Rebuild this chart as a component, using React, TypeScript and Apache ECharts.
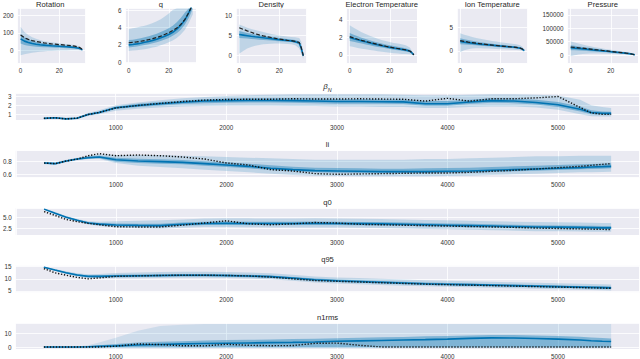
import React, { useEffect, useRef } from "react";
import * as echarts from "echarts";

// ---------- radial profile panels (top row) ----------
const R = [0, 2, 4, 6, 8, 10, 12, 14, 16, 18, 20, 22, 24, 26, 28, 30, 31, 32];

const ROT_TRUTH = [88, 72, 62, 55, 50, 46, 42, 39, 36, 34, 32, 30, 28, 26, 23, 18, 12, 3];
const ROT_MED = [65, 52, 44, 38, 34, 31, 29, 27, 25, 24, 22, 21, 19, 17, 15, 11, 7, 1];
const ROT_OLO = [-30, -25, -20, -15, -12, -10, -8, -6, -5, -4, -3, -2, -2, -1, -1, -1, -2, -5];
const ROT_OHI = [135, 105, 88, 75, 66, 58, 52, 48, 45, 42, 40, 37, 35, 32, 29, 24, 18, 6];
const ROT_ILO = [38, 30, 25, 22, 20, 18, 17, 16, 15, 14, 13, 12, 11, 10, 9, 6, 3, -2];
const ROT_IHI = [95, 75, 63, 54, 48, 43, 40, 37, 34, 32, 30, 28, 26, 24, 21, 16, 11, 3];

const Q_TRUTH = [2.25, 2.3, 2.35, 2.42, 2.5, 2.6, 2.72, 2.85, 3.0, 3.2, 3.4, 3.65, 3.95, 4.35, 4.9, 5.7, 6.2, 6.8];
const Q_MED = [2.0, 2.05, 2.12, 2.2, 2.3, 2.4, 2.52, 2.65, 2.82, 3.0, 3.2, 3.45, 3.8, 4.25, 4.85, 5.7, 6.2, 6.8];
const Q_OLO = [1.3, 1.35, 1.4, 1.45, 1.5, 1.6, 1.7, 1.8, 1.95, 2.1, 2.3, 2.5, 2.8, 3.2, 3.7, 4.5, 5.0, 5.5];
const Q_OHI = [3.8, 3.9, 4.0, 4.1, 4.2, 4.35, 4.5, 4.7, 4.95, 5.25, 5.6, 6.0, 6.5, 7, 7, 7, 7, 7];
const Q_ILO = [1.7, 1.75, 1.82, 1.9, 1.98, 2.07, 2.18, 2.3, 2.45, 2.62, 2.8, 3.05, 3.35, 3.75, 4.3, 5.1, 5.6, 6.2];
const Q_IHI = [2.55, 2.6, 2.68, 2.77, 2.87, 3.0, 3.13, 3.28, 3.47, 3.68, 3.92, 4.2, 4.6, 5.1, 5.7, 6.5, 7, 7.4];

const DEN_TRUTH = [7.0, 6.6, 6.2, 5.85, 5.5, 5.2, 4.95, 4.75, 4.55, 4.35, 4.15, 4.0, 3.85, 3.75, 3.6, 3.3, 2.0, 0];
const DEN_MED = [5.3, 5.15, 5.0, 4.85, 4.72, 4.6, 4.48, 4.36, 4.24, 4.12, 4.0, 3.9, 3.8, 3.7, 3.5, 3.15, 1.8, 0];
const DEN_OLO = [0.5, 1.2, 1.8, 2.2, 2.5, 2.7, 2.85, 2.95, 3.0, 3.05, 3.05, 3.0, 2.95, 2.85, 2.6, 1.8, 0.5, -0.8];
const DEN_OHI = [7.8, 7.4, 7.0, 6.7, 6.45, 6.2, 5.95, 5.7, 5.45, 5.25, 5.05, 4.9, 4.8, 4.7, 4.6, 4.4, 3.5, 0.8];
const DEN_ILO = [4.4, 4.35, 4.3, 4.2, 4.1, 4.0, 3.92, 3.85, 3.78, 3.7, 3.62, 3.55, 3.47, 3.4, 3.2, 2.8, 1.3, -0.2];
const DEN_IHI = [6.2, 5.95, 5.7, 5.5, 5.32, 5.15, 5.0, 4.87, 4.73, 4.6, 4.45, 4.32, 4.2, 4.08, 3.9, 3.6, 2.4, 0.3];

const TE_TRUTH = [2.1, 1.95, 1.8, 1.67, 1.55, 1.43, 1.32, 1.2, 1.1, 1.0, 0.9, 0.82, 0.74, 0.66, 0.58, 0.45, 0.28, 0.02];
const TE_MED = [2.0, 1.86, 1.73, 1.61, 1.5, 1.38, 1.27, 1.16, 1.06, 0.96, 0.87, 0.79, 0.71, 0.64, 0.56, 0.44, 0.26, 0.02];
const TE_OLO = [1.0, 0.9, 0.8, 0.72, 0.65, 0.58, 0.5, 0.43, 0.37, 0.31, 0.25, 0.2, 0.16, 0.12, 0.1, 0.08, 0.03, -0.1];
const TE_OHI = [3.4, 3.1, 2.85, 2.6, 2.4, 2.2, 2.02, 1.86, 1.72, 1.6, 1.48, 1.38, 1.3, 1.22, 1.12, 0.85, 0.5, 0.1];
const TE_ILO = [1.6, 1.5, 1.4, 1.3, 1.2, 1.1, 1.01, 0.92, 0.84, 0.76, 0.68, 0.61, 0.54, 0.48, 0.41, 0.32, 0.18, -0.03];
const TE_IHI = [2.5, 2.3, 2.13, 1.97, 1.83, 1.68, 1.55, 1.43, 1.32, 1.21, 1.11, 1.02, 0.94, 0.86, 0.76, 0.6, 0.36, 0.05];

const TI_TRUTH = [2.2, 2.05, 1.9, 1.78, 1.65, 1.53, 1.43, 1.33, 1.24, 1.15, 1.06, 0.98, 0.9, 0.82, 0.73, 0.58, 0.4, 0.05];
const TI_MED = [2.0, 1.88, 1.77, 1.66, 1.55, 1.45, 1.36, 1.28, 1.2, 1.12, 1.04, 0.96, 0.89, 0.81, 0.72, 0.57, 0.38, 0.05];
const TI_OLO = [-0.3, 0.1, 0.35, 0.5, 0.55, 0.55, 0.52, 0.48, 0.44, 0.4, 0.36, 0.32, 0.28, 0.24, 0.18, 0.1, 0.03, -0.2];
const TI_OHI = [3.8, 3.5, 3.25, 3.0, 2.8, 2.6, 2.43, 2.28, 2.14, 2.0, 1.88, 1.76, 1.65, 1.55, 1.42, 1.2, 0.9, 0.3];
const TI_ILO = [1.4, 1.35, 1.3, 1.24, 1.18, 1.12, 1.05, 0.98, 0.91, 0.85, 0.78, 0.72, 0.66, 0.6, 0.52, 0.38, 0.22, -0.05];
const TI_IHI = [2.7, 2.5, 2.32, 2.16, 2.02, 1.88, 1.76, 1.65, 1.54, 1.44, 1.34, 1.25, 1.16, 1.06, 0.95, 0.78, 0.56, 0.12];

const P_TRUTH = [30000, 28500, 27000, 25500, 24000, 22300, 20500, 18800, 17000, 15300, 13600, 11900, 10200, 8500, 6700, 4500, 3000, 500];
const P_MED = [27000, 25700, 24400, 23000, 21600, 20000, 18500, 17000, 15500, 14000, 12500, 11000, 9500, 8000, 6300, 4300, 2800, 500];
const P_OLO = [-5000, -1000, 2000, 4000, 5000, 5500, 5500, 5500, 5000, 4500, 4000, 3500, 3000, 2500, 2000, 1200, 600, 0];
const P_OHI = [52000, 47000, 43000, 39000, 35500, 32500, 29500, 27000, 24500, 22000, 19800, 17600, 15400, 13000, 10500, 7500, 5000, 1200];
const P_ILO = [18000, 17500, 17000, 16000, 15000, 14000, 13000, 12000, 11000, 10000, 9000, 8000, 7000, 6000, 4700, 3200, 2000, 200];
const P_IHI = [37000, 34500, 32000, 30000, 28000, 26000, 24000, 22000, 20000, 18000, 16000, 14000, 12000, 10000, 8000, 5500, 3700, 800];

// ---------- time traces (bottom rows) ----------
const TIME = [350, 450, 550, 650, 750, 850, 1000, 1200, 1400, 1600, 1800, 2000, 2200, 2400, 2600, 2800, 3000, 3200, 3400, 3600, 3800, 4000, 4200, 4400, 4600, 4800, 5000, 5200, 5300, 5400, 5480];

const BN_MED = [0.56, 0.62, 0.5, 0.58, 0.98, 1.2, 1.72, 1.97, 2.15, 2.32, 2.45, 2.5, 2.52, 2.52, 2.5, 2.45, 2.4, 2.4, 2.38, 2.36, 2.15, 2.15, 2.35, 2.5, 2.45, 2.3, 2.05, 1.55, 1.2, 1.12, 1.1];
const BN_TRUTH = [0.56, 0.62, 0.5, 0.58, 0.98, 1.2, 1.7, 1.97, 2.2, 2.4, 2.55, 2.62, 2.65, 2.65, 2.7, 2.68, 2.67, 2.7, 2.67, 2.65, 2.45, 2.75, 2.45, 2.7, 2.7, 2.8, 2.95, 1.75, 1.15, 1.0, 1.0];
const BN_OLO = [0.46, 0.52, 0.4, 0.46, 0.82, 1.0, 1.4, 1.6, 1.75, 1.85, 1.9, 1.95, 1.95, 1.95, 1.9, 1.9, 1.85, 1.85, 1.8, 1.8, 1.7, 1.7, 1.8, 1.85, 1.85, 1.75, 1.5, 1.0, 0.8, 0.75, 0.75];
const BN_OHI = [0.66, 0.72, 0.62, 0.72, 1.15, 1.45, 2.0, 2.3, 2.55, 2.75, 2.9, 3.0, 3.1, 3.15, 3.2, 3.2, 3.2, 3.2, 3.2, 3.15, 3.1, 3.1, 3.15, 3.2, 3.2, 3.15, 3.05, 2.6, 2.0, 1.8, 1.7];
const BN_ILO = [0.52, 0.58, 0.46, 0.53, 0.9, 1.1, 1.57, 1.8, 1.97, 2.12, 2.22, 2.27, 2.3, 2.3, 2.28, 2.22, 2.17, 2.17, 2.15, 2.12, 1.95, 1.95, 2.12, 2.27, 2.22, 2.07, 1.8, 1.3, 1.0, 0.95, 0.93];
const BN_IHI = [0.6, 0.66, 0.55, 0.63, 1.06, 1.3, 1.87, 2.15, 2.35, 2.52, 2.65, 2.72, 2.75, 2.77, 2.77, 2.72, 2.67, 2.67, 2.64, 2.62, 2.45, 2.45, 2.6, 2.75, 2.72, 2.6, 2.35, 1.85, 1.45, 1.32, 1.28];

const LI_MED = [0.77, 0.76, 0.8, 0.83, 0.85, 0.86, 0.82, 0.8, 0.79, 0.78, 0.76, 0.74, 0.72, 0.69, 0.67, 0.655, 0.65, 0.645, 0.64, 0.64, 0.64, 0.645, 0.65, 0.66, 0.67, 0.68, 0.69, 0.7, 0.71, 0.715, 0.72];
const LI_TRUTH = [0.77, 0.76, 0.8, 0.83, 0.88, 0.91, 0.88, 0.89, 0.88, 0.86, 0.83, 0.77, 0.74, 0.67, 0.65, 0.61, 0.6, 0.605, 0.61, 0.615, 0.62, 0.62, 0.63, 0.645, 0.66, 0.68, 0.7, 0.72, 0.735, 0.75, 0.76];
const LI_OLO = [0.75, 0.74, 0.78, 0.81, 0.83, 0.83, 0.77, 0.73, 0.71, 0.69, 0.67, 0.65, 0.63, 0.61, 0.59, 0.58, 0.575, 0.57, 0.57, 0.57, 0.57, 0.575, 0.58, 0.59, 0.6, 0.61, 0.62, 0.63, 0.63, 0.635, 0.64];
const LI_OHI = [0.79, 0.78, 0.82, 0.85, 0.88, 0.9, 0.89, 0.89, 0.89, 0.88, 0.87, 0.86, 0.85, 0.84, 0.83, 0.82, 0.82, 0.82, 0.82, 0.82, 0.83, 0.83, 0.84, 0.85, 0.86, 0.87, 0.87, 0.88, 0.88, 0.88, 0.88];
const LI_ILO = [0.76, 0.75, 0.79, 0.82, 0.835, 0.84, 0.79, 0.77, 0.76, 0.75, 0.73, 0.71, 0.69, 0.665, 0.645, 0.63, 0.625, 0.62, 0.615, 0.615, 0.615, 0.62, 0.625, 0.635, 0.645, 0.655, 0.665, 0.675, 0.68, 0.685, 0.69];
const LI_IHI = [0.78, 0.77, 0.81, 0.84, 0.87, 0.88, 0.85, 0.835, 0.825, 0.815, 0.795, 0.78, 0.76, 0.735, 0.715, 0.7, 0.695, 0.69, 0.685, 0.685, 0.69, 0.695, 0.7, 0.71, 0.72, 0.73, 0.74, 0.75, 0.755, 0.76, 0.765];

const Q0_MED = [6.95, 6.0, 5.1, 4.4, 3.8, 3.55, 3.35, 3.25, 3.2, 3.5, 3.7, 3.75, 3.7, 3.7, 3.7, 3.75, 3.7, 3.65, 3.6, 3.5, 3.4, 3.3, 3.2, 3.1, 3.0, 2.9, 2.85, 2.8, 2.75, 2.7, 2.7];
const Q0_TRUTH = [6.4, 5.5, 4.6, 4.1, 3.7, 3.4, 2.95, 2.9, 2.9, 3.3, 3.8, 4.3, 3.6, 3.4, 3.6, 3.9, 3.8, 3.5, 3.4, 3.3, 3.2, 3.1, 3.0, 2.9, 2.8, 2.65, 2.55, 2.45, 2.4, 2.35, 2.3];
const Q0_OLO = [6.7, 5.7, 4.8, 4.1, 3.45, 3.1, 2.8, 2.6, 2.5, 2.7, 2.9, 2.9, 2.85, 2.8, 2.8, 2.8, 2.75, 2.7, 2.65, 2.55, 2.45, 2.35, 2.25, 2.15, 2.05, 1.95, 1.9, 1.85, 1.8, 1.8, 1.8];
const Q0_OHI = [7.2, 6.3, 5.4, 4.7, 4.2, 4.1, 4.2, 4.3, 4.4, 4.6, 4.8, 4.9, 4.85, 4.8, 4.8, 4.85, 4.8, 4.75, 4.7, 4.6, 4.5, 4.4, 4.3, 4.2, 4.1, 4.0, 3.95, 3.9, 3.85, 3.8, 3.8];
const Q0_ILO = [6.85, 5.85, 4.95, 4.25, 3.6, 3.3, 3.05, 2.95, 2.9, 3.15, 3.35, 3.4, 3.35, 3.35, 3.35, 3.4, 3.35, 3.3, 3.25, 3.15, 3.05, 2.95, 2.85, 2.75, 2.65, 2.55, 2.5, 2.45, 2.4, 2.35, 2.35];
const Q0_IHI = [7.05, 6.15, 5.25, 4.55, 4.0, 3.8, 3.7, 3.6, 3.6, 3.9, 4.1, 4.15, 4.1, 4.1, 4.1, 4.15, 4.1, 4.05, 4.0, 3.9, 3.8, 3.7, 3.6, 3.5, 3.4, 3.3, 3.25, 3.2, 3.15, 3.1, 3.1];

const Q95_MED = [14.8, 13.6, 12.5, 11.6, 11.0, 11.0, 11.2, 11.3, 11.4, 11.5, 11.5, 11.4, 11.2, 10.9, 10.3, 9.6, 9.2, 8.9, 8.6, 8.3, 8.0, 7.8, 7.6, 7.4, 7.2, 7.0, 6.8, 6.6, 6.5, 6.4, 6.3];
const Q95_TRUTH = [14.2, 12.5, 11.5, 10.6, 10.0, 10.4, 11.0, 11.2, 11.4, 11.5, 11.5, 11.4, 11.2, 10.7, 10.0, 9.3, 9.0, 8.7, 8.4, 8.1, 7.8, 7.6, 7.4, 7.2, 7.0, 6.8, 6.6, 6.4, 6.3, 6.2, 6.1];
const Q95_OLO = [14.5, 13.2, 12.0, 11.0, 10.3, 10.2, 10.2, 10.2, 10.3, 10.4, 10.4, 10.3, 10.1, 9.8, 9.2, 8.5, 8.1, 7.8, 7.5, 7.2, 6.9, 6.7, 6.5, 6.3, 6.1, 5.9, 5.7, 5.5, 5.4, 5.3, 5.2];
const Q95_OHI = [15.1, 14.1, 13.1, 12.3, 11.9, 12.0, 12.4, 12.6, 12.8, 12.9, 12.9, 12.8, 12.6, 12.3, 11.7, 11.0, 10.6, 10.3, 10.0, 9.7, 9.4, 9.2, 9.0, 8.8, 8.6, 8.4, 8.2, 8.0, 7.9, 7.8, 7.7];
const Q95_ILO = [14.65, 13.4, 12.25, 11.3, 10.65, 10.6, 10.7, 10.8, 10.9, 11.0, 11.0, 10.9, 10.7, 10.4, 9.8, 9.1, 8.7, 8.4, 8.1, 7.8, 7.5, 7.3, 7.1, 6.9, 6.7, 6.5, 6.3, 6.1, 6.0, 5.9, 5.8];
const Q95_IHI = [14.95, 13.85, 12.8, 11.95, 11.4, 11.45, 11.7, 11.8, 11.9, 12.0, 12.0, 11.9, 11.7, 11.4, 10.8, 10.1, 9.7, 9.4, 9.1, 8.8, 8.5, 8.3, 8.1, 7.9, 7.7, 7.5, 7.3, 7.1, 7.0, 6.9, 6.8];

const N1_MED = [0.3, 0.3, 0.3, 0.3, 0.4, 0.7, 1.1, 1.7, 2.1, 2.5, 2.8, 3.0, 3.2, 3.4, 3.6, 3.9, 4.4, 4.7, 5.0, 5.3, 5.6, 6.0, 6.5, 6.9, 6.8, 6.4, 6.0, 5.3, 4.8, 4.4, 4.2];
const N1_TRUTH = [0.2, 0.2, 0.2, 0.2, 0.2, 0.3, 0.8, 2.5, 2.0, 1.2, 1.1, 2.2, 1.5, 1.2, 1.3, 2.9, 3.1, 1.5, 0.3, 0.3, 0.3, 0.3, 0.3, 0.3, 0.3, 0.3, 0.3, 0.3, 0.3, 0.3, 0.3];
const N1_OLO = [-0.3, -0.3, -0.3, -0.3, -0.3, -0.3, -0.3, -0.3, -0.3, -0.3, -0.3, -0.3, -0.3, -0.3, -0.3, -0.3, -0.3, -0.3, -0.3, -0.3, -0.3, -0.3, -0.3, -0.3, -0.3, -0.3, -0.3, -0.3, -0.3, -0.3, -0.3];
const N1_OHI = [0.5, 0.5, 0.5, 0.6, 1.5, 3.5, 7, 12, 15.5, 16.5, 17, 17, 17, 17, 17, 17, 17, 17, 17, 17, 17, 17, 17, 17, 17, 17, 17, 17, 17, 17, 17];
const N1_ILO = [-0.2, -0.2, -0.2, -0.2, -0.2, -0.2, -0.2, -0.2, -0.2, -0.2, -0.2, -0.2, -0.2, -0.2, -0.2, -0.2, -0.2, -0.2, -0.2, -0.2, -0.2, -0.2, -0.2, -0.2, -0.2, -0.2, -0.2, -0.2, -0.2, -0.2, -0.2];
const N1_IHI = [0.4, 0.4, 0.4, 0.45, 0.8, 1.5, 2.5, 3.5, 4, 4.5, 5, 5.3, 5.5, 5.7, 6, 6.3, 6.7, 7, 7.3, 7.6, 8, 8.3, 8.7, 9, 9, 8.7, 8.3, 7.7, 7.2, 6.8, 6.5];

const FONT = "'Liberation Sans', Arial, Helvetica, sans-serif";
const BG = "#EAEAF2";
const BLUE = "#0173B2";
const TEXT = "#333333";

type Panel = {
  title: string;
  xs: number[];
  truth: number[];
  med: number[];
  oLo: number[];
  oHi: number[];
  iLo: number[];
  iHi: number[];
  ymin: number;
  ymax: number;
  yint: number;
  yfmt?: (v: number) => string;
  oAlpha?: number;
};

const TOP_PANELS: Panel[] = [
  { title: "Rotation", xs: R, truth: ROT_TRUTH, med: ROT_MED, oLo: ROT_OLO, oHi: ROT_OHI, iLo: ROT_ILO, iHi: ROT_IHI, ymin: -77, ymax: 243, yint: 100 },
  { title: "q", xs: R, truth: Q_TRUTH, med: Q_MED, oLo: Q_OLO, oHi: Q_OHI, iLo: Q_ILO, iHi: Q_IHI, ymin: -0.11, ymax: 6.2, yint: 2 },
  { title: "Density", xs: R, truth: DEN_TRUTH, med: DEN_MED, oLo: DEN_OLO, oHi: DEN_OHI, iLo: DEN_ILO, iHi: DEN_IHI, ymin: -1.9, ymax: 11.85, yint: 5 },
  { title: "Electron Temperature", xs: R, truth: TE_TRUTH, med: TE_MED, oLo: TE_OLO, oHi: TE_OHI, iLo: TE_ILO, iHi: TE_IHI, ymin: -0.95, ymax: 5.33, yint: 2 },
  { title: "Ion Temperature", xs: R, truth: TI_TRUTH, med: TI_MED, oLo: TI_OLO, oHi: TI_OHI, iLo: TI_ILO, iHi: TI_IHI, ymin: -2.7, ymax: 9.2, yint: 5 },
  { title: "Pressure", xs: R, truth: P_TRUTH, med: P_MED, oLo: P_OLO, oHi: P_OHI, iLo: P_ILO, iHi: P_IHI, ymin: -31000, ymax: 175000, yint: 50000 },
];

const BOTTOM_PANELS: Panel[] = [
  { title: "βN", xs: TIME, truth: BN_TRUTH, med: BN_MED, oLo: BN_OLO, oHi: BN_OHI, iLo: BN_ILO, iHi: BN_IHI, ymin: 0.37, ymax: 3.3, yint: 1 },
  { title: "li", xs: TIME, truth: LI_TRUTH, med: LI_MED, oLo: LI_OLO, oHi: LI_OHI, iLo: LI_ILO, iHi: LI_IHI, ymin: 0.552, ymax: 0.955, yint: 0.2, yfmt: (v) => v.toFixed(1) },
  { title: "q0", xs: TIME, truth: Q0_TRUTH, med: Q0_MED, oLo: Q0_OLO, oHi: Q0_OHI, iLo: Q0_ILO, iHi: Q0_IHI, ymin: 1.07, ymax: 7.16, yint: 2.5, yfmt: (v) => v.toFixed(1) },
  { title: "q95", xs: TIME, truth: Q95_TRUTH, med: Q95_MED, oLo: Q95_OLO, oHi: Q95_OHI, iLo: Q95_ILO, iHi: Q95_IHI, ymin: 4.42, ymax: 15.45, yint: 5 },
  { title: "n1rms", xs: TIME, truth: N1_TRUTH, med: N1_MED, oLo: N1_OLO, oHi: N1_OHI, iLo: N1_ILO, iHi: N1_IHI, ymin: -1.2, ymax: 17.7, yint: 10, oAlpha: 0.12 },
];

const TOP_LEFTS = [15, 125.5, 236, 346.5, 457, 567.5];
const TOP_W = 70.5;
const TOP_Y = 8.3;
const TOP_H = 55;
const BOT_LEFT = 15.5;
const BOT_W = 624;
const BOT_TOPS = [93.3, 150.7, 208.2, 265.6, 323];
const BOT_H = 26.8;

function rgba(a: number) {
  return `rgba(1,115,178,${a})`;
}

// band drawn as one polygon through the axes' own coordinate mapping
function bandSeries(idx: number, xs: number[], lo: number[], hi: number[], color: string, z: number) {
  return {
    type: "custom",
    xAxisIndex: idx,
    yAxisIndex: idx,
    silent: true,
    clip: true,
    z,
    data: xs.map((x, k) => [x, lo[k], hi[k]]),
    encode: { x: 0, y: [1, 2] },
    renderItem: (params: any, api: any) => {
      if (params.dataIndex !== 0) return null;
      const pts: number[][] = [];
      for (let k = 0; k < xs.length; k++) pts.push(api.coord([xs[k], hi[k]]));
      for (let k = xs.length - 1; k >= 0; k--) pts.push(api.coord([xs[k], lo[k]]));
      const cs = params.coordSys;
      const clipped = echarts.graphic.clipPointsByRect(pts, {
        x: cs.x, y: cs.y, width: cs.width, height: cs.height,
      });
      return {
        type: "polygon",
        shape: { points: clipped },
        style: { fill: color, stroke: "none" },
      };
    },
  };
}

function panelSeries(idx: number, p: Panel, dashed: boolean) {
  return [
    bandSeries(idx, p.xs, p.oLo, p.oHi, rgba(p.oAlpha ?? 0.18), 1),
    bandSeries(idx, p.xs, p.iLo, p.iHi, rgba(0.38), 2),
    {
      type: "line",
      xAxisIndex: idx,
      yAxisIndex: idx,
      symbol: "none",
      silent: true,
      z: 3,
      lineStyle: { color: BLUE, width: 1.6 },
      data: p.xs.map((x, k) => [x, p.med[k]]),
    },
    {
      type: "line",
      xAxisIndex: idx,
      yAxisIndex: idx,
      symbol: "none",
      silent: true,
      z: 4,
      lineStyle: dashed
        ? { color: "#1f1f1f", width: 1.2, type: [4, 2] }
        : { color: "#111111", width: 1.4, type: [1.3, 1.7] },
      data: p.xs.map((x, k) => [x, p.truth[k]]),
    },
  ];
}

function axisLabel(fmt?: (v: number) => string) {
  return {
    fontSize: 6.3,
    color: TEXT,
    fontFamily: FONT,
    margin: 4,
    showMinLabel: false,
    showMaxLabel: false,
    formatter: fmt ? fmt : (v: number) => String(v),
  };
}

function buildOption() {
  const grid: any[] = [];
  const xAxis: any[] = [];
  const yAxis: any[] = [];
  const series: any[] = [];
  const graphic: any[] = [];
  const split = { show: true, lineStyle: { color: "#ffffff", width: 0.8 } };

  TOP_PANELS.forEach((p, i) => {
    grid.push({ left: TOP_LEFTS[i], top: TOP_Y, width: TOP_W, height: TOP_H, show: true, backgroundColor: BG, borderWidth: 0 });
    xAxis.push({
      type: "value", gridIndex: i, min: -1.6, max: 33.6, minInterval: 20, maxInterval: 20,
      axisLine: { show: false }, axisTick: { show: false }, splitLine: split, axisLabel: axisLabel(),
    });
    yAxis.push({
      type: "value", gridIndex: i, min: p.ymin, max: p.ymax, minInterval: p.yint, maxInterval: p.yint,
      axisLine: { show: false }, axisTick: { show: false }, splitLine: split, axisLabel: axisLabel(p.yfmt),
    });
    series.push(...panelSeries(i, p, true));
    graphic.push({
      type: "text", x: TOP_LEFTS[i] + TOP_W / 2, y: 4.5,
      style: { text: p.title, fontSize: 7.6, fontFamily: FONT, fill: "#262626", align: "center", verticalAlign: "middle" },
    });
  });

  BOTTOM_PANELS.forEach((p, j) => {
    const i = j + TOP_PANELS.length;
    grid.push({ left: BOT_LEFT, top: BOT_TOPS[j], width: BOT_W, height: BOT_H, show: true, backgroundColor: BG, borderWidth: 0 });
    xAxis.push({
      type: "value", gridIndex: i, min: 93.5, max: 5736.5, minInterval: 1000, maxInterval: 1000,
      axisLine: { show: false }, axisTick: { show: false }, splitLine: split, axisLabel: axisLabel(),
    });
    yAxis.push({
      type: "value", gridIndex: i, min: p.ymin, max: p.ymax, minInterval: p.yint, maxInterval: p.yint,
      axisLine: { show: false }, axisTick: { show: false }, splitLine: split, axisLabel: axisLabel(p.yfmt),
    });
    series.push(...panelSeries(i, p, false));
    const cx = BOT_LEFT + BOT_W / 2;
    const cy = BOT_TOPS[j] - 6;
    if (p.title === "βN") {
      graphic.push({
        type: "text", x: cx, y: cy,
        style: {
          text: "{b|β}{s|N}",
          fontFamily: FONT, fill: "#262626", align: "center", verticalAlign: "middle",
          rich: {
            b: { fontSize: 7.8, fontStyle: "italic", fontFamily: FONT, fill: "#262626", lineHeight: 10, verticalAlign: "top" },
            s: { fontSize: 5.4, fontStyle: "italic", fontFamily: FONT, fill: "#262626", lineHeight: 10, verticalAlign: "bottom", padding: [3, 0, 0, 0] },
          },
        },
      });
    } else {
      graphic.push({
        type: "text", x: cx, y: cy,
        style: { text: p.title, fontSize: 7.6, fontFamily: FONT, fill: "#262626", align: "center", verticalAlign: "middle" },
      });
    }
  });

  return {
    animation: false,
    backgroundColor: "#ffffff",
    textStyle: { fontFamily: FONT },
    grid,
    xAxis,
    yAxis,
    series,
    graphic,
  };
}

export default function App() {
  const ref = useRef<HTMLDivElement>(null);
  useEffect(() => {
    if (!ref.current) return;
    const chart = echarts.init(ref.current, null, { renderer: "svg" });
    chart.setOption(buildOption() as any);
    return () => chart.dispose();
  }, []);
  return (
    <div
      ref={ref}
      style={{ position: "fixed", left: 0, top: 0, width: 640, height: 359, background: "#fff" }}
    />
  );
}
